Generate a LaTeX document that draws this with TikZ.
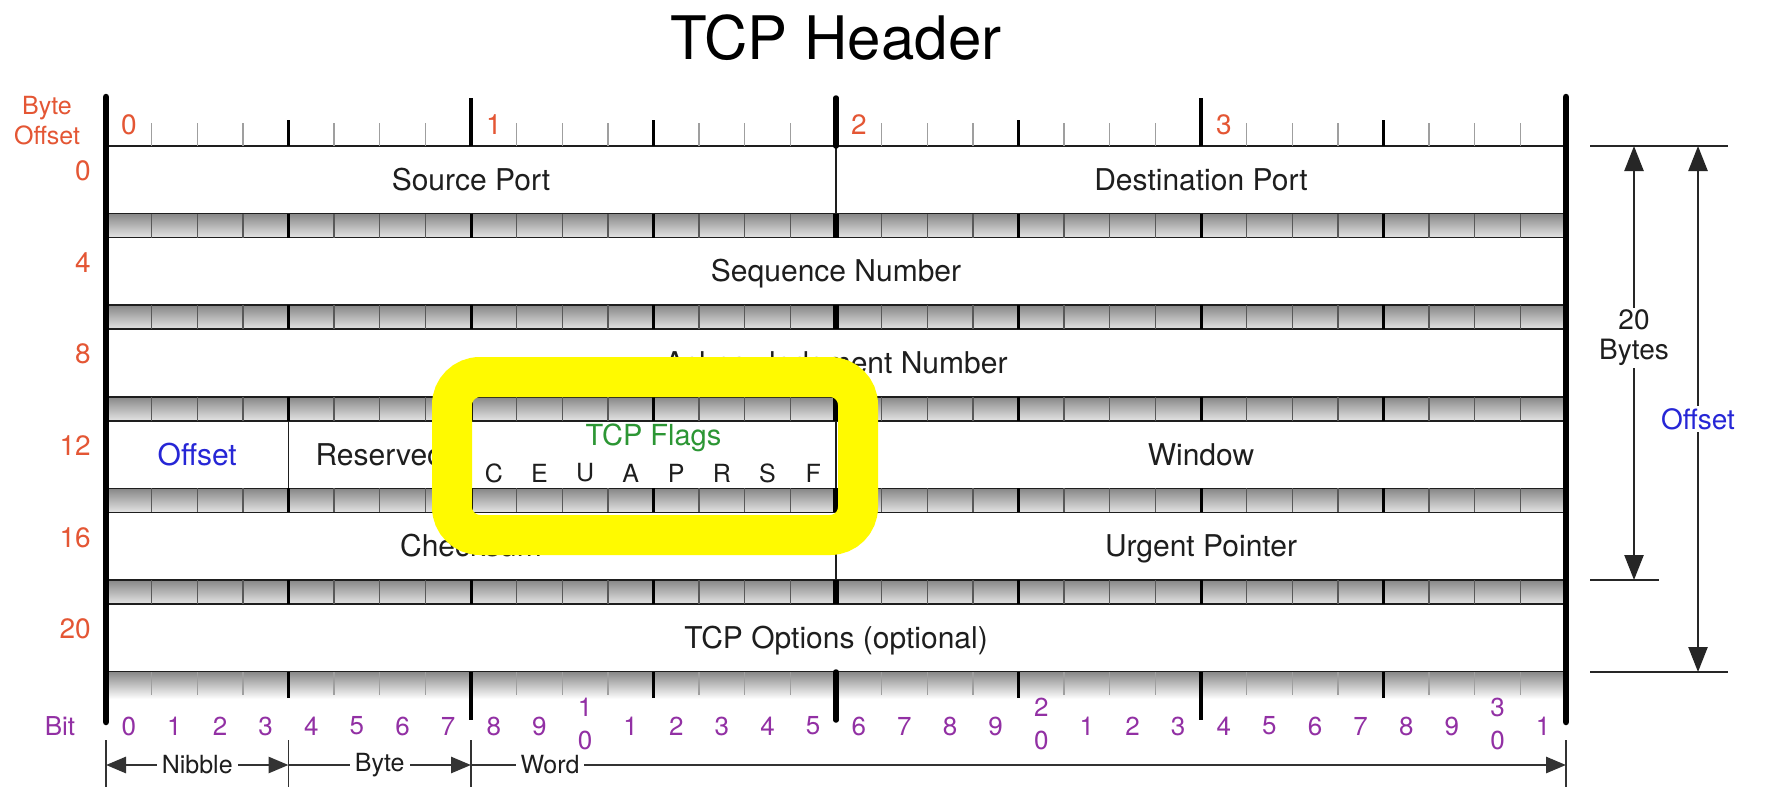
\documentclass[tikz,border=0pt]{standalone}
\usepackage{fontspec}
\setmainfont{TeX Gyre Heros}
\usetikzlibrary{positioning, calc, arrows.meta}

\definecolor{byteorange}{RGB}{228,86,52}
\definecolor{bitpurple}{RGB}{146,48,164}
\definecolor{offblue}{RGB}{38,38,214}
\definecolor{flaggreen}{RGB}{44,150,52}
\definecolor{stripdark}{RGB}{135,135,135}
\definecolor{striplight}{RGB}{228,228,228}
\definecolor{textgray}{RGB}{30,30,30}
\definecolor{marker}{RGB}{255,250,0}

\newcommand{\fsz}[1]{\fontsize{#1}{#1}\selectfont}

\tikzset{
    dimtip/.tip={Triangle[length=20pt,width=16pt]},
    sizetip/.tip={Triangle[length=25pt,width=19pt]}
}

\begin{document}
\begin{tikzpicture}[x=1pt, y=-1pt,
    % Define a custom style for the header fields
    field/.style={
        draw=textgray,
        fill=white,
        line width=1.6pt,
        minimum width=#1*45.625pt,
        minimum height=67.6pt,
        inner sep=0pt,
        outer sep=0pt,
        text height=21pt,
        text depth=0pt,
        font=\fsz{30},
        text=textgray
    },
    rowlabel/.style={anchor=east, inner sep=0pt, font=\fsz{28}, text=byteorange},
    bytelabel/.style={inner sep=0pt, font=\fsz{28}, text=byteorange},
    bitlabel/.style={inner sep=0pt, font=\fsz{26}, text=bitpurple},
    flagletter/.style={inner sep=0pt, font=\fsz{25}, text=textgray},
    bittick/.style={draw=gray!75, line width=1.3pt},
    nibtick/.style={draw=black, line width=3pt},
    bytetick/.style={draw=black, line width=3.5pt},
    wordtick/.style={draw=black, line width=5.5pt, line cap=round},
    dimline/.style={draw=black!80, line width=2.8pt},
    sizeline/.style={draw=black!85, line width=2.4pt},
    dimlabel/.style={fill=white, inner xsep=5pt, inner ysep=2pt, font=\fsz{25}, text=textgray}
]

\fill[white] (0,0) rectangle (1775,811);
\useasboundingbox (0,0) rectangle (1775,811);

% Title
\node[font=\fsz{60}] (title) at (836,38) {TCP Header};

% Shaded strips between the rows
\foreach \k in {0,...,4}
    \shade[top color=stripdark, bottom color=striplight] (106,{213.6+91.6*\k}) rectangle (1566,{237.6+91.6*\k});
\shade[top color=stripdark, bottom color=white] (106,671.6) rectangle (1566,699);

% Header fields
\node[field=16, anchor=north west] (srcport) at (106,146) {Source Port};
\node[field=16, right=0pt of srcport] (dstport) {Destination Port};
\node[field=32, below=24pt of srcport.south west, anchor=north west] (seqnum) {Sequence Number};
\node[field=32, below=24pt of seqnum.south west, anchor=north west] (acknum) {Acknowledgment Number};
\node[field=4, below=24pt of acknum.south west, anchor=north west, text=offblue] (offset) {Offset};
\node[field=4, right=0pt of offset] (reserved) {Reserved};
\node[field=8, right=0pt of reserved] (flags) {};
\node[field=16, right=0pt of flags] (window) {Window};
\node[field=16, below=24pt of offset.south west, anchor=north west] (checksum) {Checksum};
\node[field=16, right=0pt of checksum] (urgptr) {Urgent Pointer};
\node[field=32, below=24pt of checksum.south west, anchor=north west] (options) {TCP Options (optional)};

% Flags
\node[inner sep=0pt, font=\fsz{29}, text=flaggreen] (flagtitle) at ($(flags.north)+(0,17)$) {TCP Flags};
\foreach \f [count=\i from 8] in {C,E,U,A,P,R,S,F}
    \node[flagletter] (flag\f) at ({106+(\i+0.5)*45.625},473) {\f};

% Dividers in the strips
\foreach \k in {0,...,4}{
    \foreach \i in {1,...,31}
        \draw[bittick, draw=black!65] ({106+\i*45.625},{213.6+91.6*\k}) -- ++(0,24);
    \foreach \i in {4,8,12,20,24,28}
        \draw[nibtick] ({106+\i*45.625},{213.6+91.6*\k}) -- ++(0,24);
    \draw[wordtick, line cap=butt] (836,{213.6+91.6*\k}) -- ++(0,24);
}

% Top ruler
\foreach \i in {1,2,3,5,6,7,9,10,11,13,14,15,17,18,19,21,22,23,25,26,27,29,30,31}
    \draw[bittick] ({106+\i*45.625},123) -- ({106+\i*45.625},146);
\foreach \i in {4,12,20,28}
    \draw[nibtick] ({106+\i*45.625},120) -- ({106+\i*45.625},146);
\foreach \i in {8,24}
    \draw[bytetick] ({106+\i*45.625},98) -- ({106+\i*45.625},146);
\draw[wordtick] (836,98) -- (836,146);
\foreach \b in {0,...,3}
    \node[bytelabel] (byte\b) at ({106+(8*\b+0.5)*45.625},125) {\b};

% Bottom ruler
\foreach \i in {1,2,3,5,6,7,9,10,11,13,14,15,17,18,19,21,22,23,25,26,27,29,30,31}
    \draw[bittick] ({106+\i*45.625},672) -- ({106+\i*45.625},695);
\foreach \i in {4,12,20,28}
    \draw[nibtick] ({106+\i*45.625},672) -- ({106+\i*45.625},698);
\foreach \i in {8,24}
    \draw[bytetick] ({106+\i*45.625},672) -- ({106+\i*45.625},720);
\draw[wordtick] (836,672) -- (836,720);

% Frame
\draw[line width=6.5pt, line cap=round] (106,97) -- (106,722);
\draw[line width=6.5pt, line cap=round] (1566,97) -- (1566,722);

% Labels on the left
\node[align=center, inner sep=0pt, font=\fontsize{25}{30}\selectfont, text=byteorange] (byteoff) at (47,121) {Byte\\Offset};
\foreach \r [count=\k from 0] in {0,4,8,12,16,20}
    \node[rowlabel] (row\r) at (91,{171+91.6*\k}) {\r};

% Bit numbers
\node[bitlabel] (bitname) at (60,726) {Bit};
\foreach \i in {0,...,9,11,12,...,19,21,22,...,29,31}{
    \pgfmathtruncatemacro{\d}{mod(\i,10)}
    \node[bitlabel] (bit\i) at ({106+(\i+0.5)*45.625},726) {\d};
}
\foreach \t in {1,2,3}{
    \node[bitlabel] (bit\t0) at ({106+(10*\t+0.5)*45.625},707) {\t};
    \node[bitlabel] (bit\t0z) at ({106+(10*\t+0.5)*45.625},740) {0};
}

% Nibble, byte and word
\coordinate (nibL) at (106,765);
\coordinate (nibR) at (288.5,765);
\coordinate (byteR) at (471,765);
\coordinate (wordR) at (1566,765);
\foreach \x in {106,288.5,471,1566}
    \draw[draw=black!80, line width=1.5pt] (\x,740) -- (\x,787);
\draw[dimline, dimtip-dimtip] (nibL) -- (nibR);
\draw[dimline, -dimtip] (nibR) -- (byteR);
\draw[dimline, -dimtip] (byteR) -- (wordR);
\node[dimlabel] (niblabel) at ($(nibL)!0.5!(nibR)$) {Nibble};
\node[dimlabel] (bytelabel) at ($(nibR)!0.5!(byteR)$) {Byte};
\node[dimlabel] (wordlabel) at (550,765) {Word};

% Sizes on the right
\coordinate (refTL) at (1590,146);
\coordinate (refTR) at (1728,146);
\coordinate (refML) at (1590,580);
\coordinate (refMR) at (1659,580);
\coordinate (refBL) at (1590,672);
\coordinate (refBR) at (1728,672);
\draw[sizeline] (refTL) -- (refTR);
\draw[sizeline] (refML) -- (refMR);
\draw[sizeline] (refBL) -- (refBR);
\coordinate (bytesT) at (1634,146);
\coordinate (bytesB) at (1634,580);
\coordinate (offT) at (1698,146);
\coordinate (offB) at (1698,672);
\draw[sizeline, sizetip-sizetip] (bytesT) -- (bytesB);
\draw[sizeline, sizetip-sizetip] (offT) -- (offB);
\node[dimlabel, align=center, font=\fontsize{28}{30}\selectfont] (byteslabel) at (1634,338) {20\\Bytes};
\node[dimlabel, font=\fsz{28}, text=offblue] (offlabel) at (1698,419) {Offset};

% Yellow marker round the flags
\draw[marker, line width=40pt, rounded corners=28pt] (452,377) rectangle (858,535);

\end{tikzpicture}
\end{document}
